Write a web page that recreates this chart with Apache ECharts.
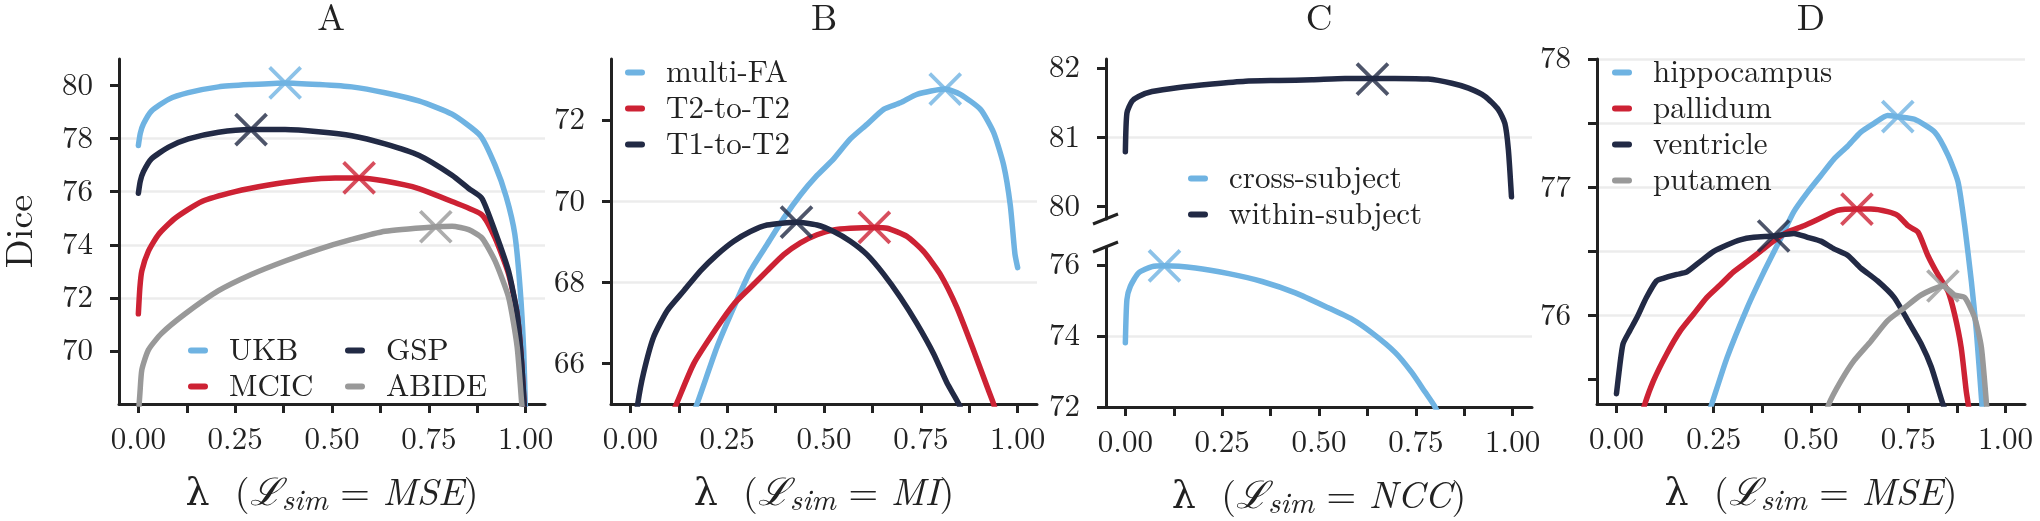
<!DOCTYPE html>
<html><head><meta charset="utf-8">
<script src="https://cdn.jsdelivr.net/npm/echarts@6/dist/echarts.min.js"></script>
<style>html,body{margin:0;padding:0;background:#fff}#c{width:2040px;height:521px}</style>
</head><body><div id="c"></div>
<script>
// ---------------- data (lambda, Dice) ----------------
// Panel A (L_sim = MSE)
const A_UKB = [[0,77.74],[0.005,78.2],[0.013,78.55],[0.034,79.04],[0.078,79.48],[0.129,79.73],[0.207,79.95],[0.293,80.04],[0.379,80.1],[0.465,80.04],[0.551,79.95],[0.637,79.73],[0.724,79.42],[0.81,78.92],[0.883,78.11],[0.921,77.0],[0.95,75.8],[0.972,74.4],[0.986,72.3],[0.995,70.0],[1.0,67.5]];
const A_MCIC = [[0,71.4],[0.004,72.4],[0.009,73.02],[0.026,73.76],[0.052,74.39],[0.095,75.0],[0.164,75.63],[0.25,76.0],[0.336,76.25],[0.422,76.43],[0.508,76.52],[0.57,76.52],[0.637,76.4],[0.724,76.12],[0.81,75.63],[0.887,75.13],[0.921,74.26],[0.956,72.9],[0.978,71.4],[0.99,69.5],[1.0,67.0]];
const A_GSP = [[0,75.94],[0.005,76.4],[0.013,76.75],[0.034,77.24],[0.078,77.68],[0.129,77.99],[0.207,78.24],[0.291,78.34],[0.379,78.34],[0.465,78.26],[0.551,78.11],[0.637,77.8],[0.724,77.37],[0.81,76.62],[0.853,76.12],[0.887,75.75],[0.921,74.5],[0.956,73.0],[0.978,71.4],[0.99,69.5],[1.0,67.0]];
const A_ABIDE = [[0,67.6],[0.004,68.4],[0.009,69.29],[0.026,70.04],[0.06,70.66],[0.121,71.4],[0.207,72.27],[0.293,72.89],[0.379,73.39],[0.465,73.83],[0.551,74.2],[0.637,74.51],[0.768,74.68],[0.81,74.7],[0.853,74.57],[0.887,74.26],[0.921,73.39],[0.956,72.02],[0.978,70.16],[0.99,68.0],[1.0,66.5]];
const A_best = [[0.379,80.1],[0.57,76.52],[0.291,78.34],[0.768,74.68]];

// Panel B (L_sim = MI)
const B_multiFA = [[0,60.5],[0.1,63.2],[0.172,65.0],[0.224,66.41],[0.267,67.38],[0.31,68.28],[0.353,68.93],[0.396,69.58],[0.439,70.15],[0.482,70.63],[0.525,71.04],[0.568,71.53],[0.611,71.89],[0.654,72.26],[0.697,72.42],[0.74,72.63],[0.813,72.76],[0.852,72.63],[0.904,72.26],[0.938,71.69],[0.964,70.88],[0.981,69.9],[0.993,68.7],[1.0,68.36]];
const B_T2T2 = [[0,62.2],[0.06,63.7],[0.119,65.0],[0.164,66.0],[0.224,66.89],[0.267,67.46],[0.31,67.87],[0.353,68.28],[0.396,68.68],[0.439,68.97],[0.482,69.17],[0.525,69.29],[0.568,69.33],[0.63,69.35],[0.663,69.33],[0.714,69.13],[0.757,68.76],[0.8,68.2],[0.843,67.38],[0.886,66.33],[0.921,65.43],[0.938,65.0],[1.0,63.0]];
const B_T1T2 = [[0,63.6],[0.019,65.0],[0.034,65.76],[0.06,66.65],[0.095,67.3],[0.138,67.79],[0.181,68.28],[0.224,68.68],[0.267,69.01],[0.31,69.25],[0.353,69.41],[0.429,69.48],[0.482,69.41],[0.525,69.25],[0.568,69.01],[0.611,68.68],[0.654,68.2],[0.697,67.63],[0.74,66.98],[0.783,66.24],[0.818,65.51],[0.848,65.0],[0.9,63.8],[1.0,61.5]];
const B_best = [[0.813,72.76],[0.63,69.35],[0.429,69.48]];

// Panel C (L_sim = NCC), broken y axis
const C_cross = [[0,73.81],[0.004,75.02],[0.013,75.4],[0.034,75.77],[0.069,75.95],[0.101,75.97],[0.181,75.91],[0.267,75.75],[0.353,75.53],[0.439,75.21],[0.524,74.79],[0.585,74.47],[0.636,74.09],[0.697,73.53],[0.739,72.98],[0.774,72.42],[0.798,72.03],[0.85,70.9],[1.0,67.0]];
const C_within = [[0,80.79],[0.004,81.35],[0.017,81.52],[0.034,81.59],[0.069,81.66],[0.138,81.72],[0.224,81.77],[0.31,81.81],[0.396,81.82],[0.482,81.83],[0.567,81.85],[0.638,81.85],[0.696,81.85],[0.782,81.84],[0.843,81.78],[0.886,81.71],[0.929,81.59],[0.963,81.4],[0.98,81.2],[0.989,80.82],[0.997,80.14]];
const C_best_cross = [0.101,75.97];
const C_best_within = [0.638,81.84];

// Panel D (L_sim = MSE)
const D_hippo = [[0,72.8],[0.2,74.9],[0.245,75.31],[0.284,75.67],[0.336,76.06],[0.379,76.34],[0.422,76.6],[0.456,76.81],[0.491,76.96],[0.525,77.09],[0.559,77.22],[0.594,77.32],[0.628,77.43],[0.663,77.5],[0.697,77.56],[0.723,77.55],[0.766,77.53],[0.818,77.43],[0.852,77.25],[0.878,77.04],[0.895,76.7],[0.912,76.27],[0.925,75.88],[0.938,75.36],[0.95,74.9],[1.0,73.0]];
const D_pallidum = [[0,74.6],[0.073,75.31],[0.095,75.49],[0.129,75.7],[0.164,75.88],[0.198,76.01],[0.232,76.14],[0.267,76.24],[0.301,76.34],[0.336,76.42],[0.37,76.5],[0.404,76.58],[0.439,76.65],[0.482,76.7],[0.525,76.76],[0.568,76.82],[0.618,76.83],[0.654,76.83],[0.697,76.81],[0.723,76.78],[0.749,76.7],[0.775,76.65],[0.8,76.47],[0.826,76.32],[0.852,76.19],[0.869,76.01],[0.886,75.75],[0.899,75.41],[0.904,75.31],[0.95,74.3]];
const D_ventricle = [[0,75.39],[0.009,75.62],[0.017,75.78],[0.034,75.88],[0.052,75.98],[0.077,76.14],[0.103,76.27],[0.12,76.29],[0.155,76.32],[0.181,76.34],[0.215,76.42],[0.25,76.5],[0.284,76.55],[0.318,76.59],[0.353,76.61],[0.404,76.62],[0.456,76.64],[0.491,76.61],[0.525,76.58],[0.559,76.52],[0.594,76.47],[0.628,76.37],[0.671,76.27],[0.714,76.14],[0.749,75.96],[0.783,75.78],[0.809,75.6],[0.839,75.31],[0.9,74.8]];
const D_putamen = [[0.5,74.9],[0.546,75.31],[0.577,75.49],[0.611,75.65],[0.654,75.8],[0.697,75.96],[0.74,76.06],[0.783,76.16],[0.839,76.23],[0.869,76.16],[0.895,76.14],[0.921,75.98],[0.938,75.75],[0.951,75.31],[1.0,73.5]];
const D_best = [[0.723,77.55],[0.618,76.83],[0.404,76.62],[0.839,76.23]];

// tick labels
const xTicks = [0,0.125,0.25,0.375,0.5,0.625,0.75,0.875,1.0];
const xTickLabels = [0,0.25,0.5,0.75,1.0];
const yTicksA = [70,72,74,76,78,80];
const yTicksB = [66,68,70,72];
const yTicksCtop = [80,81,82];
const yTicksCbot = [72,74,76];
const yTicksD = [75.5,76,76.5,77,77.5,78];
const yLabelsD = [76,77,78];
const panelTitles = ['A','B','C','D'];
const simNames = ['MSE','MI','NCC','MSE'];

// ---------------- style ----------------
const FONT = "'Latin Modern Roman', 'DejaVu Serif', serif";
const INK = '#222222';
const BLUE = '#6fb3e2', RED = '#cd2234', NAVY = '#222a45', GRAY = '#999999';
const LW = 5.5;

const grids = [
  {left:117, top:59, width:428, height:348},   // A
  {left:611, top:59, width:426, height:348},   // B
  {left:1106, top:59, width:426, height:160},  // C top
  {left:1106, top:247, width:426, height:160}, // C bottom
  {left:1597, top:59, width:428, height:348}   // D
];

function xName(sim){ return '{n|λ  (}{s|ℒ}{sub|sim}{n| = }{i|' + sim + '}{n|)}'; }
const nameRich = {
  n:{fontFamily:FONT, fontSize:38, color:INK, lineHeight:38, verticalAlign:'middle'},
  s:{fontFamily:FONT, fontSize:38, color:INK, fontStyle:'italic', lineHeight:38, verticalAlign:'middle'},
  i:{fontFamily:FONT, fontSize:38, color:INK, fontStyle:'italic', lineHeight:38, verticalAlign:'middle'},
  sub:{fontFamily:FONT, fontSize:30, color:INK, fontStyle:'italic', lineHeight:46, verticalAlign:'bottom'}
};

function xAxisFor(gi, visible, sim){
  return {
    type:'value', gridIndex:gi, min:-0.05, max:1.05, minInterval:0.125, maxInterval:0.125,
    show: visible,
    axisLine:{show:true, onZero:false, lineStyle:{color:INK, width:3}},
    axisTick:{show:true, length:9, lineStyle:{color:INK, width:3}, customValues:xTicks},
    axisLabel:{customValues:xTickLabels, formatter:v=>Number(v).toFixed(2), fontFamily:FONT, fontSize:31, color:INK, margin:20},
    splitLine:{show:false},
    name: sim ? xName(sim) : '', nameLocation:'middle', nameGap:66,
    nameTextStyle:{fontFamily:FONT, fontSize:38, color:INK, rich:nameRich}
  };
}
function yAxisFor(gi, min, max, step, ticks, labels, showMax, name){
  return {
    type:'value', gridIndex:gi, min:min, max:max, minInterval:step, maxInterval:step,
    axisLine:{show:true, onZero:false, lineStyle:{color:INK, width:3}},
    axisTick:{show:true, length:9, lineStyle:{color:INK, width:3}, customValues:ticks},
    axisLabel:{customValues:labels, formatter:v=>String(Math.round(v)), fontFamily:FONT, fontSize:31, color:INK, margin:26},
    splitLine:{show:true, showMinLine:false, showMaxLine:showMax, lineStyle:{color:'#ececec', width:2.5}},
    name: name || '', nameLocation:'middle', nameGap:80,
    nameTextStyle:{fontFamily:FONT, fontSize:38, color:INK}
  };
}

function lineS(name, data, color, gi){
  return {type:'line', name:name, data:data, xAxisIndex:gi, yAxisIndex:gi, color:color,
    symbol:'none', showSymbol:false, smooth:0.2, clip:true, silent:true, z:2,
    lineStyle:{width:LW, color:color, cap:'round', join:'round'}, itemStyle:{color:color}};
}
function bestS(pt, color, gi){
  return {type:'scatter', data:[pt], xAxisIndex:gi, yAxisIndex:gi, silent:true, z:3,
    symbol:'path://M0,0L10,10M10,0L0,10', symbolSize:31,
    itemStyle:{color:'rgba(0,0,0,0)', borderColor:color, borderWidth:3.8}};
}
const legendIcon = 'path://M3,0H17A3,3 0 0 1 17,6H3A3,3 0 0 1 3,0Z';
function legendAt(left, top, names){
  return {show:true, orient:'vertical', left:left, top:top, padding:0, itemGap:5,
    itemWidth:20, itemHeight:6, icon:legendIcon, data:names, selectedMode:false,
    textStyle:{fontFamily:FONT, fontSize:31, color:INK, lineHeight:30, padding:[0,0,0,16]}};
}

const series = [
  lineS('UKB', A_UKB, BLUE, 0), lineS('MCIC', A_MCIC, RED, 0), lineS('GSP', A_GSP, NAVY, 0), lineS('ABIDE', A_ABIDE, GRAY, 0),
  bestS(A_best[0], BLUE, 0), bestS(A_best[1], RED, 0), bestS(A_best[2], NAVY, 0), bestS(A_best[3], GRAY, 0),
  lineS('multi-FA', B_multiFA, BLUE, 1), lineS('T2-to-T2', B_T2T2, RED, 1), lineS('T1-to-T2', B_T1T2, NAVY, 1),
  bestS(B_best[0], BLUE, 1), bestS(B_best[1], RED, 1), bestS(B_best[2], NAVY, 1),
  lineS('within-subject', C_within, NAVY, 2), bestS(C_best_within, NAVY, 2),
  lineS('cross-subject', C_cross, BLUE, 3), bestS(C_best_cross, BLUE, 3),
  lineS('hippocampus', D_hippo, BLUE, 4), lineS('pallidum', D_pallidum, RED, 4), lineS('ventricle', D_ventricle, NAVY, 4), lineS('putamen', D_putamen, GRAY, 4),
  bestS(D_best[0], BLUE, 4), bestS(D_best[1], RED, 4), bestS(D_best[2], NAVY, 4), bestS(D_best[3], GRAY, 4)
];

const titleCenters = [grids[0].left + grids[0].width/2, grids[1].left + grids[1].width/2, grids[2].left + grids[2].width/2, grids[4].left + grids[4].width/2];

// broken-axis marks for panel C
const ct = grids[2], cb = grids[3];
const breakMarks = [ct.top + ct.height, cb.top].map(y => ({
  type:'line', silent:true, z:10,
  shape:{x1:ct.left - 13, y1:y + 5, x2:ct.left + 12, y2:y - 5},
  style:{stroke:INK, lineWidth:3}
}));

const option = {
  animation:false,
  backgroundColor:'#ffffff',
  title: panelTitles.map((t,i)=>({text:t, left:titleCenters[i], top:0, textAlign:'center', padding:0,
    textStyle:{fontFamily:FONT, fontSize:37, fontWeight:'normal', color:INK}})),
  grid: grids.map(g=>Object.assign({containLabel:false}, g)),
  xAxis: [xAxisFor(0,true,simNames[0]), xAxisFor(1,true,simNames[1]), xAxisFor(2,false,null), xAxisFor(3,true,simNames[2]), xAxisFor(4,true,simNames[3])],
  yAxis: [
    yAxisFor(0, 68, 81, 2, yTicksA, yTicksA, false, 'Dice'),
    yAxisFor(1, 65, 73.5, 2, yTicksB, yTicksB, false),
    yAxisFor(2, 79.82, 82.13, 1, yTicksCtop, yTicksCtop, false),
    yAxisFor(3, 72, 76.5, 2, yTicksCbot, yTicksCbot, false),
    yAxisFor(4, 75.31, 78, 0.5, yTicksD, yLabelsD, true)
  ],
  legend: [
    legendAt(188, 335, ['UKB','MCIC']),
    legendAt(345, 335, ['GSP','ABIDE']),
    legendAt(625, 57, ['multi-FA','T2-to-T2','T1-to-T2']),
    legendAt(1188, 163, ['cross-subject','within-subject']),
    legendAt(1612, 57, ['hippocampus','pallidum','ventricle','putamen'])
  ],
  graphic: breakMarks,
  series: series
};
const chart = echarts.init(document.getElementById('c'), null, {renderer:'canvas'});
chart.setOption(option);
</script></body></html>
